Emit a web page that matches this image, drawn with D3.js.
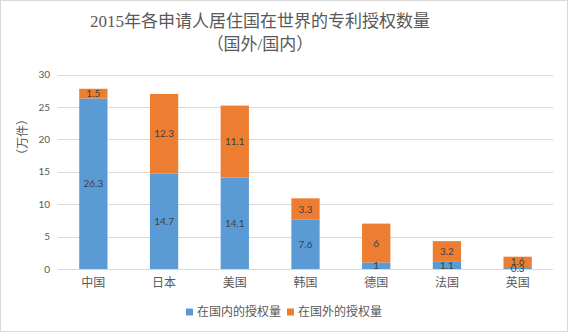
<!DOCTYPE html>
<html><head><meta charset="utf-8">
<script src="https://cdn.jsdelivr.net/npm/d3@7"></script>
<style>
html,body{margin:0;padding:0;background:#fff;}
svg{display:block;}
text{font-family:"Noto Sans CJK SC","Noto Sans",sans-serif;}
</style></head>
<body>
<script>
const categories = ["中国","日本","美国","韩国","德国","法国","英国"];
const domestic = [26.3,14.7,14.1,7.6,1,1.1,0.3];
const foreign = [1.5,12.3,11.1,3.3,6,3.2,1.6];
const seriesNames = ["在国内的授权量","在国外的授权量"];
const colors = ["#5B9BD5","#ED7D31"];
const yTicks = [0,5,10,15,20,25,30];

const W=568,H=332;
const svg=d3.select("body").append("svg").attr("width",W).attr("height",H);
svg.append("rect").attr("x",0.5).attr("y",0.5).attr("width",W-1).attr("height",H-1)
  .attr("fill","#fff").attr("stroke","#D9D9D9");

const x=d3.scaleBand().domain(categories).range([58,553]).paddingInner(0.6).paddingOuter(0.3);
const y=d3.scaleLinear().domain([0,30]).range([269,74.5]);

// gridlines
svg.append("g").selectAll("line").data(yTicks).join("line")
  .attr("x1",58).attr("x2",553).attr("y1",d=>Math.round(y(d))+0.5).attr("y2",d=>Math.round(y(d))+0.5)
  .attr("stroke","#D9D9D9").attr("stroke-width",1);

// y axis labels
const ya=svg.append("g").attr("transform","translate(50,0)")
  .call(d3.axisLeft(y).tickValues(yTicks).tickSize(0).tickPadding(0));
ya.select(".domain").remove();
ya.selectAll("text").attr("fill","#595959").style("font-size","10px").style("font-family","Lato,'Noto Sans',sans-serif");

// x axis labels
const xa=svg.append("g").attr("transform","translate(0,276)")
  .call(d3.axisBottom(x).tickSize(0).tickPadding(0));
xa.select(".domain").remove();
xa.selectAll("text").attr("fill","#595959").style("font-size","12px").attr("dy","0.9em");

// stacked data
const rows=categories.map((c,i)=>({c,d:domestic[i],f:foreign[i]}));
const stack=d3.stack().keys(["d","f"])(rows);
stack.forEach((layer,k)=>{
  svg.append("g").selectAll("rect").data(layer).join("rect")
    .attr("x",d=>x(d.data.c)).attr("width",x.bandwidth())
    .attr("y",d=>y(d[1])).attr("height",d=>y(d[0])-y(d[1]))
    .attr("fill",colors[k]);
});
stack.forEach((layer,k)=>{
  svg.append("g").selectAll("text").data(layer).join("text")
    .attr("x",d=>x(d.data.c)+x.bandwidth()/2)
    .attr("y",d=>(y(d[0])+y(d[1]))/2)
    .attr("dy","0.35em").attr("text-anchor","middle")
    .attr("fill","#404040").style("font-size","10px")
    .style("font-family","Lato,'Noto Sans',sans-serif")
    .text(d=>k===0?d.data.d:d.data.f);
});

// y axis title
svg.append("text").attr("transform","translate(23,137) rotate(-90)")
  .attr("text-anchor","middle").attr("dy","0.35em")
  .attr("fill","#595959").style("font-size","12px").text("（万件）");

// title
const title=svg.append("text").attr("x",260).attr("text-anchor","middle").attr("fill","#595959")
  .style("font-size","17px").style("font-family","'Liberation Serif','Noto Sans CJK SC',serif");
title.append("tspan").attr("x",260).attr("y",27).text("2015年各申请人居住国在世界的专利授权数量");
title.append("tspan").attr("x",260).attr("y",50).text("（国外/国内）");

// legend
const legendX=[186,287];
seriesNames.forEach((n,i)=>{
  const g=svg.append("g").attr("transform",`translate(${legendX[i]},312)`);
  g.append("rect").attr("x",0).attr("y",-3.5).attr("width",7).attr("height",7).attr("fill",colors[i]);
  g.append("text").attr("x",11).attr("dy","0.35em").attr("fill","#595959").style("font-size","12px").text(n);
});
</script>
</body></html>
